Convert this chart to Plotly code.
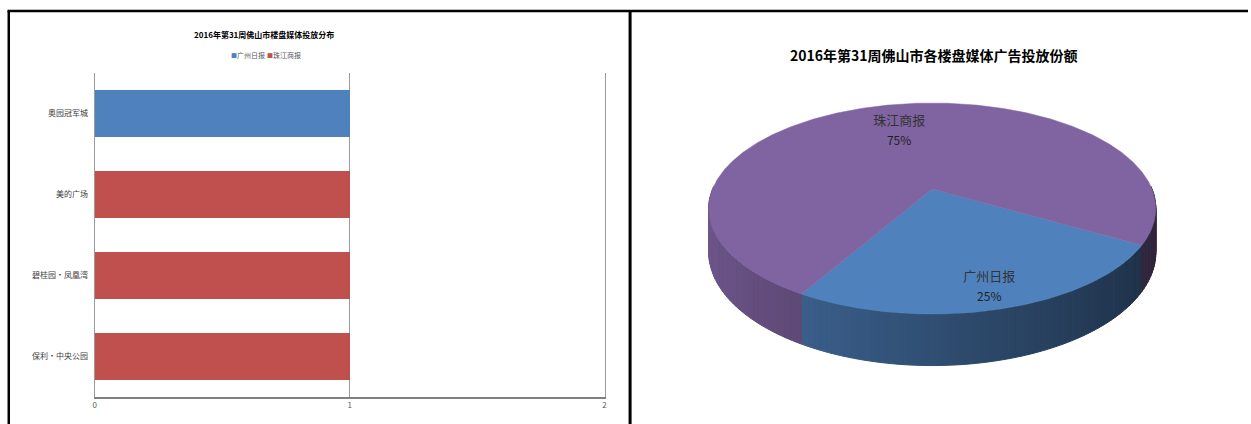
import numpy as np
import plotly.graph_objects as go

W, H = 1251, 424

# ---------------- data ----------------
bar_categories = ["奥园冠军城", "美的广场", "碧桂园・凤凰湾", "保利・中央公园"]
series_names = ["广州日报", "珠江商报"]
gz_values = [1, 0, 0, 0]   # 广州日报
zj_values = [0, 1, 1, 1]   # 珠江商报
x_tick_vals = [0, 1, 2]

bar_title = "2016年第31周佛山市楼盘媒体投放分布"
pie_title = "2016年第31周佛山市各楼盘媒体广告投放份额"
pie_labels = ["广州日报", "珠江商报"]
pie_values = [1, 3]

# ---------------- styles ----------------
BLUE = "#4F81BD"
RED = "#C0504D"
PURPLE = "#8064A2"
FONT = "Noto Sans CJK SC"

fig = go.Figure()

# ---------------- bar chart ----------------
fig.add_trace(go.Bar(y=bar_categories, x=gz_values, orientation="h", name=series_names[0],
                     marker=dict(color=BLUE, line=dict(width=0)), width=0.57,
                     xaxis="x", yaxis="y", showlegend=False))
fig.add_trace(go.Bar(y=bar_categories, x=zj_values, orientation="h", name=series_names[1],
                     marker=dict(color=RED, line=dict(width=0)), width=0.57,
                     xaxis="x", yaxis="y", showlegend=False))

# ---------------- 3D pie (perspective-projected ellipse) ----------------
CX, CY, RX, RY, K, DEPTH = 934.0, 189.0, 220.6, 101.9, 0.185, 42.0
START = 30.0


def proj(theta_deg, r=1.0, depth=0.0):
    t = np.radians(theta_deg)
    u = r * np.cos(t)
    v = r * np.sin(t)
    f = 1.0 / (1.0 - K * v)
    return CX + RX * u * f, CY + RY * v * f + depth * f


def shade(hexcol, theta_deg):
    u = np.cos(np.radians(theta_deg))
    fac = 0.605 - 0.249 * u
    h = hexcol.lstrip("#")
    rgb = [int(h[i:i + 2], 16) for i in (0, 2, 4)]
    return "rgb(%d,%d,%d)" % tuple(min(255, int(round(c * fac))) for c in rgb)


pie_colors = [BLUE, PURPLE]
total = float(sum(pie_values))
spans = [360.0 * v / total for v in pie_values]
starts = [START + sum(spans[:i]) for i in range(len(spans))]

# sides (front half only)
for col, a0, sp in zip(pie_colors, starts, spans):
    a1 = a0 + sp
    n = max(2, int(np.ceil(sp / 1.5)))
    edges = np.linspace(a0, a1, n + 1)
    for t1, t2 in zip(edges[:-1], edges[1:]):
        tm = (t1 + t2) / 2.0
        if np.sin(np.radians(tm)) < -0.02:
            continue
        xa, ya = proj(t1)
        xb, yb = proj(t2)
        xc, yc = proj(t2, depth=DEPTH)
        xd, yd = proj(t1, depth=DEPTH)
        c = shade(col, tm)
        fig.add_trace(go.Scatter(x=[xa, xb, xc, xd, xa], y=[ya, yb, yc, yd, ya],
                                 mode="lines", fill="toself", fillcolor=c,
                                 line=dict(color=c, width=1),
                                 hoverinfo="skip", showlegend=False,
                                 xaxis="x2", yaxis="y2"))

# top faces
for lab, col, a0, sp in zip(pie_labels, pie_colors, starts, spans):
    th = np.linspace(a0, a0 + sp, int(sp * 2) + 2)
    xs, ys = proj(th)
    xs = np.concatenate([[CX], xs, [CX]])
    ys = np.concatenate([[CY], ys, [CY]])
    fig.add_trace(go.Scatter(x=xs, y=ys, mode="lines", fill="toself", fillcolor=col,
                             line=dict(color=col, width=0.5), name=lab,
                             hoverinfo="skip", showlegend=False,
                             xaxis="x2", yaxis="y2"))

# labels
label_r = [0.85, 0.65]
lx, ly = [], []
for a0, sp, r in zip(starts, spans, label_r):
    x, y = proj(a0 + sp / 2.0, r=r)
    lx.append(x)
    ly.append(y)
pct = ["%d%%" % round(100 * v / total) for v in pie_values]
fig.add_trace(go.Scatter(x=lx, y=[y - 10 for y in ly], mode="text", text=pie_labels,
                         textfont=dict(family=FONT, size=13, color="#333333"),
                         hoverinfo="skip", showlegend=False, xaxis="x2", yaxis="y2"))
fig.add_trace(go.Scatter(x=lx, y=[y + 10 for y in ly], mode="text", text=pct,
                         textfont=dict(family=FONT, size=12, color="#1f1f1f"),
                         hoverinfo="skip", showlegend=False, xaxis="x2", yaxis="y2"))

# ---------------- layout ----------------
fig.update_layout(
    width=W, height=H,
    margin=dict(l=0, r=0, t=0, b=0),
    paper_bgcolor="white", plot_bgcolor="rgba(0,0,0,0)",
    barmode="stack",
    showlegend=False,
    font=dict(family=FONT),
    xaxis=dict(domain=[93 / W, 605 / W], range=[0, 2], tickvals=x_tick_vals,
               showgrid=True, gridcolor="#9a9a9a", gridwidth=1, zeroline=False,
               showline=True, linecolor="#808080", linewidth=1.5,
               ticks="", tickfont=dict(size=8, color="#595959"), fixedrange=True),
    yaxis=dict(domain=[1 - 397 / H, 1 - 73 / H], categoryorder="array",
               categoryarray=bar_categories, autorange="reversed",
               showgrid=False, zeroline=False, showline=True, mirror=True,
               linecolor="#9a9a9a", linewidth=1, ticks="", ticklabelstandoff=4,
               tickfont=dict(size=8, color="#404040"), fixedrange=True),
    xaxis2=dict(domain=[630 / W, 1.0], range=[630, W], visible=False, fixedrange=True),
    yaxis2=dict(domain=[0, 1], range=[H, 0], visible=False, fixedrange=True),
)


def sq(color):
    return "<span style='color:%s;font-size:6px'>■</span>" % color


ann = [
    dict(text="<b>" + bar_title + "</b>", x=263 / W, y=1 - 35 / H),
    dict(text=sq(BLUE) + series_names[0], x=247 / W, y=1 - 55 / H),
    dict(text=sq(RED) + series_names[1], x=283 / W, y=1 - 55 / H),
    dict(text="<b>" + pie_title + "</b>", x=936 / W, y=1 - 55 / H),
]
fonts = [dict(family=FONT, size=8, color="black"),
         dict(family=FONT, size=7, color="#595959"),
         dict(family=FONT, size=7, color="#595959"),
         dict(family=FONT, size=14, color="black")]
for a, f in zip(ann, fonts):
    a.update(xref="paper", yref="paper", xanchor="center", yanchor="middle",
             showarrow=False, font=f)
fig.update_layout(annotations=ann)

shapes = [
    dict(type="line", xref="paper", yref="paper", x0=5.5 / W, x1=1, y0=1 - 11 / H, y1=1 - 11 / H,
         line=dict(color="black", width=2.5)),
    dict(type="line", xref="paper", yref="paper", x0=6.8 / W, x1=6.8 / W, y0=0, y1=1 - 11 / H,
         line=dict(color="black", width=2.5)),
    dict(type="line", xref="paper", yref="paper", x0=630.6 / W, x1=630.6 / W, y0=0, y1=1 - 11 / H,
         line=dict(color="black", width=3)),
]
fig.update_layout(shapes=shapes)

fig.write_html("out.html", config={"displayModeBar": False},
               post_script="document.body.style.margin='0px';")
